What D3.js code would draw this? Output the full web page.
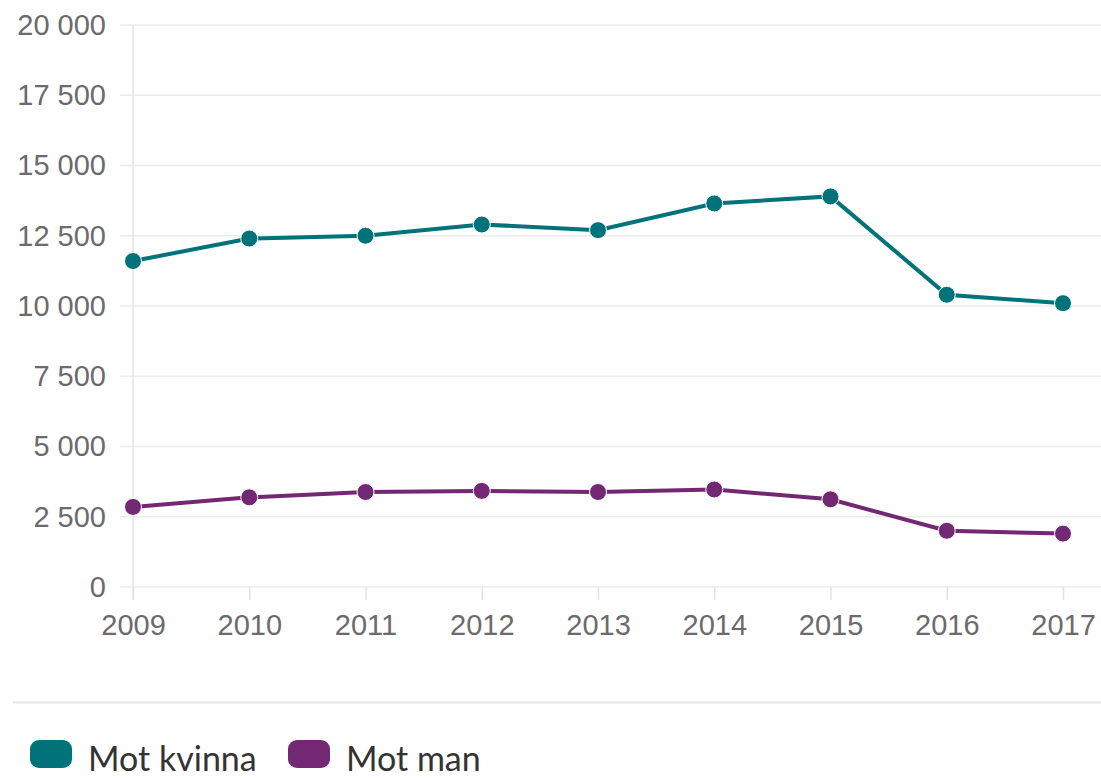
<!DOCTYPE html>
<html>
<head>
<meta charset="utf-8">
<script src="https://cdn.jsdelivr.net/npm/d3@7"></script>
<style>
  body { margin: 0; background: #fff; }
  svg { display: block; }
</style>
</head>
<body>
<div id="chart"></div>
<script>
// data
var years = [2009, 2010, 2011, 2012, 2013, 2014, 2015, 2016, 2017];
var motKvinna = [11600, 12400, 12500, 12900, 12700, 13650, 13900, 10400, 10100];
var motMan = [2850, 3190, 3380, 3420, 3380, 3470, 3120, 2000, 1900];
var yTicks = [0, 2500, 5000, 7500, 10000, 12500, 15000, 17500, 20000];
var seriesNames = ["Mot kvinna", "Mot man"];
var seriesColors = ["#00737a", "#722872"];

var W = 1101, H = 778;
var margin = {top: 25, right: 38, bottom: 191, left: 133},
    width = W - margin.left - margin.right,
    height = H - margin.top - margin.bottom;

var svg = d3.select("#chart")
    .append("svg")
    .attr("width", W)
    .attr("height", H);

var g = svg.append("g")
    .attr("transform", "translate(" + margin.left + "," + margin.top + ")");

var x = d3.scalePoint()
    .domain(years)
    .range([0, width]);

var y = d3.scaleLinear()
    .domain([0, 20000])
    .range([height, 0]);

var fmt = function(d) { return d3.format(",")(d).replace(/,/g, " "); };

// gridlines
g.append("g")
    .selectAll("line")
    .data(yTicks)
    .enter()
    .append("line")
    .attr("x1", -13)
    .attr("x2", W - margin.left)
    .attr("y1", function(d) { return y(d); })
    .attr("y2", function(d) { return y(d); })
    .style("stroke", "#ececec")
    .style("stroke-width", 1.5);

// y axis line
g.append("line")
    .attr("x1", 0).attr("x2", 0)
    .attr("y1", 0).attr("y2", height + 13)
    .style("stroke", "#e3e3e3")
    .style("stroke-width", 1.5);

// y labels
var yAxis = g.append("g")
    .call(d3.axisLeft(y).tickValues(yTicks).tickFormat(fmt).tickSize(0).tickPadding(27));
yAxis.select(".domain").remove();
yAxis.selectAll("text")
    .style("font-family", "Liberation Sans, Arial, sans-serif")
    .style("font-size", "29px")
    .style("fill", "#6b6b6b");

// x axis
var xAxis = g.append("g")
    .attr("transform", "translate(0," + height + ")")
    .call(d3.axisBottom(x).tickSize(13).tickPadding(14));
xAxis.select(".domain").remove();
xAxis.selectAll("line")
    .style("stroke", "#e3e3e3")
    .style("stroke-width", 1.5);
xAxis.selectAll("text")
    .style("font-family", "Liberation Sans, Arial, sans-serif")
    .style("font-size", "29px")
    .style("fill", "#6b6b6b");

// lines and markers
var allSeries = [motKvinna, motMan];
var line = d3.line()
    .x(function(d, i) { return x(years[i]); })
    .y(function(d) { return y(d); });

allSeries.forEach(function(vals, s) {
    g.append("path")
        .datum(vals)
        .attr("d", line)
        .style("fill", "none")
        .style("stroke", seriesColors[s])
        .style("stroke-width", 4);

    g.selectAll(".dot" + s)
        .data(vals)
        .enter()
        .append("circle")
        .attr("class", "dot" + s)
        .attr("cx", function(d, i) { return x(years[i]); })
        .attr("cy", function(d) { return y(d); })
        .attr("r", 8.5)
        .style("fill", seriesColors[s])
        .style("stroke", "#fff")
        .style("stroke-width", 1);
});

// legend separator
svg.append("line")
    .attr("x1", 13).attr("x2", W)
    .attr("y1", 702.5).attr("y2", 702.5)
    .style("stroke", "#e6e6e6")
    .style("stroke-width", 2);

// legend
var legendX = [30, 288];
var legend = svg.selectAll(".legend")
    .data(seriesNames)
    .enter()
    .append("g")
    .attr("class", "legend")
    .attr("transform", function(d, i) { return "translate(" + legendX[i] + ",740)"; });

legend.append("rect")
    .attr("width", 42)
    .attr("height", 28)
    .attr("rx", 9)
    .style("fill", function(d, i) { return seriesColors[i]; });

legend.append("text")
    .attr("x", 58)
    .attr("y", 31)
    .text(function(d) { return d; })
    .style("font-family", "Lato, sans-serif")
    .style("font-size", "34px")
    .style("fill", "#333");
</script>
</body>
</html>
